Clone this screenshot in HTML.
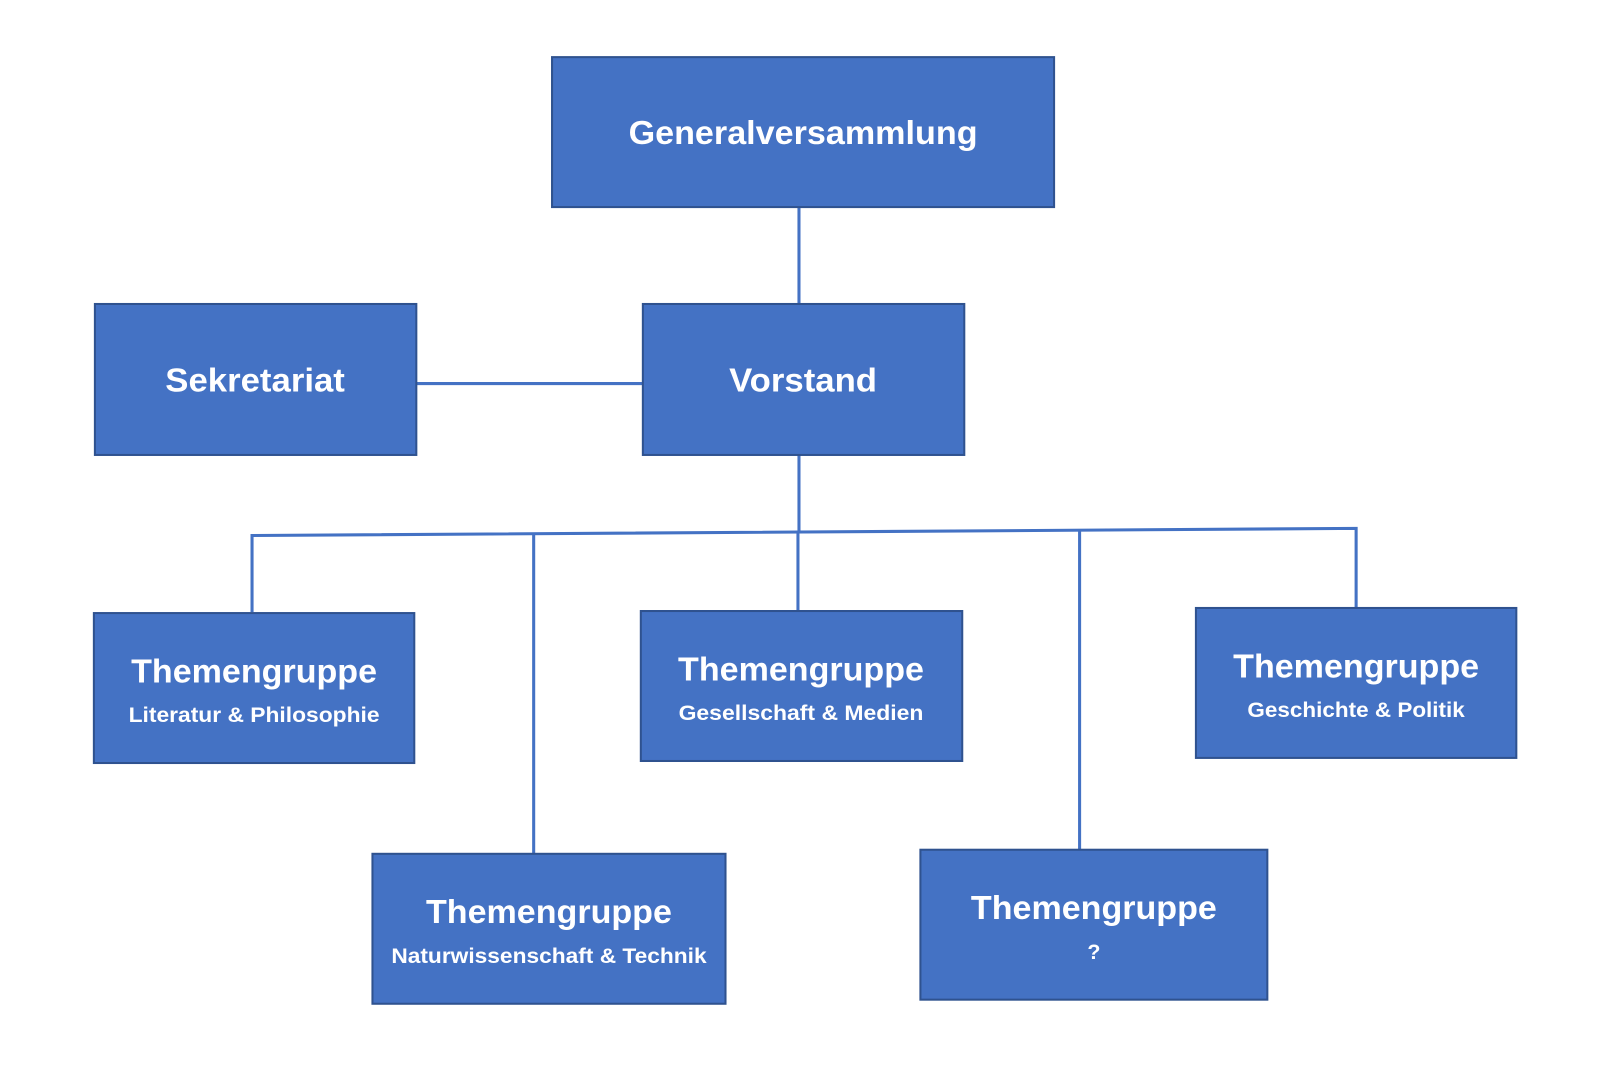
<!DOCTYPE html>
<html><head><meta charset="utf-8"><style>html,body{margin:0;padding:0;background:#fff}svg{display:block}</style></head>
<body>
<svg width="1600" height="1067" viewBox="0 0 1568 1046" preserveAspectRatio="none" xmlns="http://www.w3.org/2000/svg">
<rect width="1568" height="1046" fill="#fff"/>
<g stroke="#4472C4" stroke-width="3" fill="none">
<line x1="783" y1="203" x2="783" y2="298"/>
<line x1="408" y1="376" x2="630" y2="376"/>
<line x1="783" y1="446" x2="783" y2="521"/>
<polyline points="247,600 247,525 1329,518 1329,596"/>
<line x1="523" y1="524" x2="523" y2="837"/>
<line x1="782" y1="521" x2="782" y2="599"/>
<line x1="1058" y1="520" x2="1058" y2="833"/>
</g>
<g fill="#4472C4" stroke="#2F528F" stroke-width="2">
<rect x="541" y="56" width="492" height="147"/>
<rect x="93" y="298" width="315" height="148"/>
<rect x="630" y="298" width="315" height="148"/>
<rect x="92" y="601" width="314" height="147"/>
<rect x="628" y="599" width="315" height="147"/>
<rect x="1172" y="596" width="314" height="147"/>
<rect x="365" y="837" width="346" height="147"/>
<rect x="902" y="833" width="340" height="147"/>
</g>
<g fill="#fff" font-family="Liberation Sans, sans-serif" font-weight="bold" text-anchor="middle">
<text x="787" y="141" font-size="33" textLength="342" lengthAdjust="spacingAndGlyphs">Generalversammlung</text>
<text x="250" y="384" font-size="33" textLength="176" lengthAdjust="spacingAndGlyphs">Sekretariat</text>
<text x="787" y="384" font-size="33" textLength="145" lengthAdjust="spacingAndGlyphs">Vorstand</text>
<g font-size="33">
<text x="249" y="669" textLength="241" lengthAdjust="spacingAndGlyphs">Themengruppe</text>
<text x="785" y="667" textLength="241" lengthAdjust="spacingAndGlyphs">Themengruppe</text>
<text x="1329" y="664" textLength="241" lengthAdjust="spacingAndGlyphs">Themengruppe</text>
<text x="538" y="905" textLength="241" lengthAdjust="spacingAndGlyphs">Themengruppe</text>
<text x="1072" y="901" textLength="241" lengthAdjust="spacingAndGlyphs">Themengruppe</text>
</g>
<g font-size="21">
<text x="249" y="708" textLength="246" lengthAdjust="spacingAndGlyphs">Literatur &amp; Philosophie</text>
<text x="785" y="706" textLength="240" lengthAdjust="spacingAndGlyphs">Gesellschaft &amp; Medien</text>
<text x="1329" y="703" textLength="213" lengthAdjust="spacingAndGlyphs">Geschichte &amp; Politik</text>
<text x="538" y="944" textLength="309" lengthAdjust="spacingAndGlyphs">Naturwissenschaft &amp; Technik</text>
<text x="1072" y="940">?</text>
</g>
</g>
</svg>
</body></html>
